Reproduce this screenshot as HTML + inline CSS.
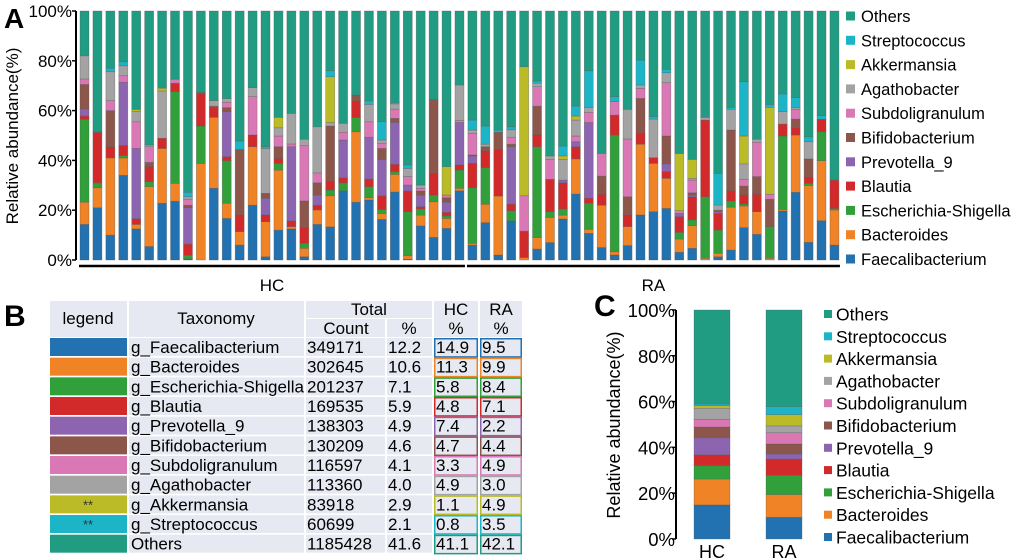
<!DOCTYPE html>
<html><head><meta charset="utf-8"><style>
body{margin:0;background:#fff;width:1020px;height:560px;overflow:hidden}
svg{font-family:"Liberation Sans",sans-serif;display:block}
</style></head><body>
<svg id="chart" width="1020" height="560" viewBox="0 0 1020 560" xmlns="http://www.w3.org/2000/svg">
<text x="4" y="28" font-size="28" font-weight="bold">A</text>
<text x="4" y="326" font-size="30" font-weight="bold">B</text>
<text x="594" y="316" font-size="30" font-weight="bold">C</text>
<g id="gA"></g>
<g id="gB"></g>
<g id="gC"></g>
</svg>
<script>
const seriesNames=["Faecalibacterium","Bacteroides","Escherichia-Shigella","Blautia","Prevotella_9","Bifidobacterium","Subdoligranulum","Agathobacter","Akkermansia","Streptococcus","Others"];
const seriesColors=["#2271b1","#f08326","#31a03a","#d22a2a","#8d64b0","#8c564b","#d978b5","#a3a3a3","#bbbb28","#1cb5c8","#1f9c82"];
const yTicks=[0,20,40,60,80,100];
const hcCount=30;
const faec=[14.3,21,10,34,12.5,5.4,22.8,23.6,0.5,0,28.8,16.7,6,22,1.3,12,12.5,1.3,14.3,13.3,27.8,23.2,24.1,16.3,27.3,0.3,13.7,9.1,12.7,27.8,6,15,2,15.7,0,4.4,7,16.5,26.5,10.7,5,2,5.8,18.1,19.4,20.7,3.1,4.7,0,1.3,4,13,10.3,0,19.7,27.2,7.1,15.8,6];
const bact=[8.9,8,31,7,1.8,24.1,22,7.2,0,38.8,28.5,6.1,5.4,23.5,14.1,24.1,0.9,3.4,5.8,12.5,0,28.3,0.9,2.4,7.1,1.4,4.3,14.3,4,1,0.7,7.4,23.7,0,1,4.6,10.1,1.5,14.1,1.6,17,1.3,7.6,28.4,19.4,12.1,5.3,9.1,0.7,1.4,17.2,8.7,9.1,0.7,0.6,23,22.8,24.1,14.1];
const esch=[33.3,2,0,1,0,2,0,36.8,1.4,15,0,17.1,0,0,0,2.7,0,2,0,2.3,3.2,5.7,4.5,1.6,1.1,17.7,2.5,2.7,1,7.3,22.3,14.7,0,4.1,0,36.5,2.3,2.5,0,10.5,0,46.9,0,0,0,0,2.7,2.3,24.7,9.3,2.5,0.8,0,12.7,29.5,0,0.9,11.6,0.6];
const blau=[1.3,20,4.5,4,2.3,6,4.1,3.4,4.5,12.9,4,1.6,6.7,4.7,2.7,2,2.3,6.4,1.9,3.4,2,6.7,3,5.4,2.9,8.3,0.9,8.7,1.4,2.1,9.8,6.7,18.7,2.6,10.6,4.7,13,10.5,4.9,2,4.4,8,4.7,4.4,2.3,2.7,6.3,9.3,30.8,6.7,4,3.6,7,0,4.8,2.9,2.4,5,11.4];
const prev=[2.8,0,0,25.4,28.2,0,0,0,14.6,0,0,18.1,0,0,6.7,0,29.8,0,4.1,0,15.2,0,16.8,14.7,16.9,2.4,4.7,0,4.1,17,3,0,0,23.1,0,0,0,1.1,2,30.4,0,0,0,0,0,3.1,1.3,0.7,0,0.7,0,0,0,0,0,0,0,0,0];
const bifi=[9.9,0.5,14.5,0,0,1.7,0,0,1,0.6,0.5,1.6,26.3,0,2,4.7,0,10.6,4.9,22.3,0,2.4,0,4.4,1.6,0,1.6,29.7,1.8,0,0.4,1.7,6.9,1,0,11.6,0,0,0,0,7.3,0,7.3,14,0,11.2,0,0.9,0,0.6,24.5,3.6,7.1,11,0,3.5,7.4,0,0];
const subd=[2.2,0,4,2.6,10.7,6.3,0,1.6,2.4,0,0,2.1,0,15.4,0,4.3,1.1,22.2,4,0,3.1,0,6.2,2.1,3.7,3.4,1.1,0,1.1,0.8,8.7,0,0,2.8,14.2,7.8,8,0,2.3,4.1,9.1,5.4,23.2,4,0,21.4,1.1,5.1,0,0,0,2.7,13.8,2,0,3.9,0,0,0];
const agat=[9.3,0,11.6,4,4.1,0.7,19,0,1,0,2.2,1.5,0,3.6,18,3.3,12.3,2.6,18.5,1.4,3.6,0,7,1.3,2.1,3.3,1.3,0,0,14.3,1.3,1,0,3,0,1.4,1.4,8.3,6.4,1.9,0,0,11.9,1.4,15.5,4,0,0.7,1,2.1,8.3,6.2,1.2,0,5,0.7,6.9,0,0];
const akk=[0,0,0,0,0.9,0,1.1,0,0,0,0,0,0,0,0,4.2,0,0,0,18.4,0,0,0,0,0,0,0,0,11.4,0,0,0,0,0,51.8,0,0,1.4,1.6,0,0,0,0,0,0,0,23,7.6,0,0,0,11.2,0,34.9,0,0,0,0,0];
const strep=[0,0,1.4,1.6,0,0,0,0,1.8,0,0,0,3.4,0,0.7,0,0,0,0,2.4,0,0,1.4,7.4,0.6,1.4,0,0,0,0,4,7.3,0.9,1.2,0,0.9,0,4,4,14.8,0,2,0,10,1,1.4,0,0,0.5,12.7,0.8,21.8,0,1.2,7.1,4,2,1.5,0];
const tableCounts=["349171","302645","201237","169535","138303","130209","116597","113360","83918","60699","1185428"];
const tablePct=["12.2","10.6","7.1","5.9","4.9","4.6","4.1","4.0","2.9","2.1","41.6"];
const hcMeans=[14.9,11.3,5.8,4.8,7.4,4.7,3.3,4.9,1.1,0.8,41.1];
const raMeans=[9.5,9.9,8.4,7.1,2.2,4.4,4.9,3.0,4.9,3.5,42.1];
const groupLabels=["HC","RA"];

const NS="http://www.w3.org/2000/svg";
function mk(tag,attrs,parent,text){const e=document.createElementNS(NS,tag);for(const k in attrs)e.setAttribute(k,attrs[k]);if(text!==undefined)e.textContent=text;parent.appendChild(e);return e;}
const series=[faec,bact,esch,blau,prev,bifi,subd,agat,akk,strep];

// ---------- Panel A ----------
const gA=document.getElementById('gA');
const aY0=260,aY1=11,aX0=80,aPitch=12.93,aBW=9;
const yA=v=>aY0-(v/100)*(aY0-aY1);
const xA=i=>aX0+i*aPitch;
let ax=mk('line',{x1:76,y1:aY1,x2:76,y2:aY0,stroke:'#000','stroke-width':2},gA);


yTicks.forEach(t=>{
  const tk=mk('line',{x1:72,x2:76,y1:yA(t),y2:yA(t),stroke:'#000','stroke-width':1.5},gA);
  
  
  const tl=mk('text',{x:72,y:yA(t)+6,'text-anchor':'end','font-size':17},gA,t+'%');
  
  
});
let yt=mk('text',{transform:'translate(18,136) rotate(-90)','text-anchor':'middle','font-size':17},gA,'Relative abundance(%)');


const nBars=faec.length;
for(let i=0;i<nBars;i++){
  let cum=0;
  const g=mk('g',{},gA);
  
  
  const vals=series.map(s=>s[i]);
  const others=Math.max(0,100-vals.reduce((a,b)=>a+b,0));
  vals.push(others);
  vals.forEach((v,k)=>{
    if(v<=0)return;
    const r=mk('rect',{x:xA(i),y:yA(cum+v),width:aBW,height:yA(cum)-yA(cum+v),fill:seriesColors[k],stroke:'rgba(90,90,90,0.55)','stroke-width':0.6},g);
    
    
    cum+=v;
  });
}
[[0,hcCount],[hcCount,nBars]].forEach((rg,gi)=>{
  const x1=xA(rg[0])-1,x2=xA(rg[1]-1)+aBW+1;
  const l=mk('line',{x1:x1,x2:x2,y1:266,y2:266,stroke:'#000','stroke-width':2.5},gA);
  
  
  const t=mk('text',{x:(x1+x2)/2,y:291,'text-anchor':'middle','font-size':17},gA,groupLabels[gi]);
  
  
});
for(let j=0;j<11;j++){
  const k=10-j;const cy=16+j*24.3;
  const g=mk('g',{},gA);
  
  
  mk('rect',{x:846,y:cy-4.5,width:9,height:9,fill:seriesColors[k]},g);
  mk('text',{x:861,y:cy+6,'font-size':16.5},g,seriesNames[k]);
}

// ---------- Panel B (table) ----------
const gB=document.getElementById('gB');
const cellBg='#e6e9f1';
const cols=[[50,77],[129,175],[306,79],[387,45],[434,44],[480,42]];
function cell(x,y,w,h,name){const r=mk('rect',{x:x,y:y,width:w,height:h,fill:cellBg},gB);return r;}
cell(50,301,77,36,'header-legend');
cell(129,301,175,36,'header-taxonomy');
cell(306,301,126,17,'header-total');
cell(306,319,79,18,'header-count');
cell(387,319,45,18,'header-pct');
cell(434,301,44,36,'header-hc');
cell(480,301,42,36,'header-ra');
const hdr=[['legend',88,324,'middle'],['Taxonomy',216,324,'middle'],['Total',369,315,'middle'],['Count',346,334,'middle'],['%',409,334,'middle'],['HC',456,315,'middle'],['%',456,334,'middle'],['RA',501,315,'middle'],['%',501,334,'middle']];
hdr.forEach(h=>{const t=mk('text',{x:h[1],y:h[2],'text-anchor':h[3],'font-size':17},gB,h[0]);});
for(let i=0;i<11;i++){
  const top=338+i*19.67,h=18;
  const row=mk('g',{},gB);
  
  
  mk('rect',{x:50,y:top,width:77,height:h,fill:seriesColors[i]},row);
  if(i===8||i===9)mk('text',{x:88,y:top+14,'text-anchor':'middle','font-size':13,fill:'#333'},row,'**');
  [1,2,3].forEach(c=>mk('rect',{x:cols[c][0],y:top,width:cols[c][1],height:h,fill:cellBg},row));
  [4,5].forEach(c=>mk('rect',{x:cols[c][0]+0.75,y:top+0.75,width:cols[c][1]-1.5,height:h+0.2,fill:cellBg,stroke:seriesColors[i],'stroke-width':1.5},row));
  const label=i<10?'g_'+seriesNames[i]:'Others';
  const fs=17;
  mk('text',{x:131,y:top+15,'font-size':fs},row,label);
  mk('text',{x:307,y:top+15,'font-size':fs},row,tableCounts[i]);
  mk('text',{x:388,y:top+15,'font-size':fs},row,tablePct[i]);
  mk('text',{x:436,y:top+15,'font-size':fs},row,hcMeans[i].toFixed(1));
  mk('text',{x:482,y:top+15,'font-size':fs},row,raMeans[i].toFixed(1));
}

// ---------- Panel C ----------
const gC=document.getElementById('gC');
const cY0=539,cY1=310;
const yC=v=>cY0-(v/100)*(cY0-cY1);
let axc=mk('line',{x1:676,x2:676,y1:cY1,y2:cY0,stroke:'#000','stroke-width':2},gC);


yTicks.forEach(t=>{
  const tk=mk('line',{x1:672,x2:676,y1:yC(t),y2:yC(t),stroke:'#000','stroke-width':1.5},gC);
  
  
  const tl=mk('text',{x:675,y:yC(t)+7,'text-anchor':'end','font-size':18.5},gC,t+'%');
  
  
});
let ytc=mk('text',{transform:'translate(620,425) rotate(-90)','text-anchor':'middle','font-size':18},gC,'Relative abundance(%)');


[[hcMeans,694],[raMeans,766]].forEach((d,gi)=>{
  const g=mk('g',{},gC);
  
  
  let cum=0;
  d[0].forEach((v,k)=>{
    const top=k===10?100:cum+v;
    const r=mk('rect',{x:d[1],y:yC(top),width:36,height:yC(cum)-yC(top),fill:seriesColors[k],stroke:'rgba(90,90,90,0.5)','stroke-width':0.6},g);
    
    
    cum+=v;
  });
  const t=mk('text',{x:d[1]+18,y:558,'text-anchor':'middle','font-size':18},gC,groupLabels[gi]);
  
  
});
for(let j=0;j<11;j++){
  const k=10-j;const cy=314+j*22.3;
  const g=mk('g',{},gC);
  
  
  mk('rect',{x:824,y:cy-4,width:8,height:8,fill:seriesColors[k]},g);
  mk('text',{x:836,y:cy+6.5,'font-size':17.5},g,seriesNames[k]);
}
</script>
</body></html>
